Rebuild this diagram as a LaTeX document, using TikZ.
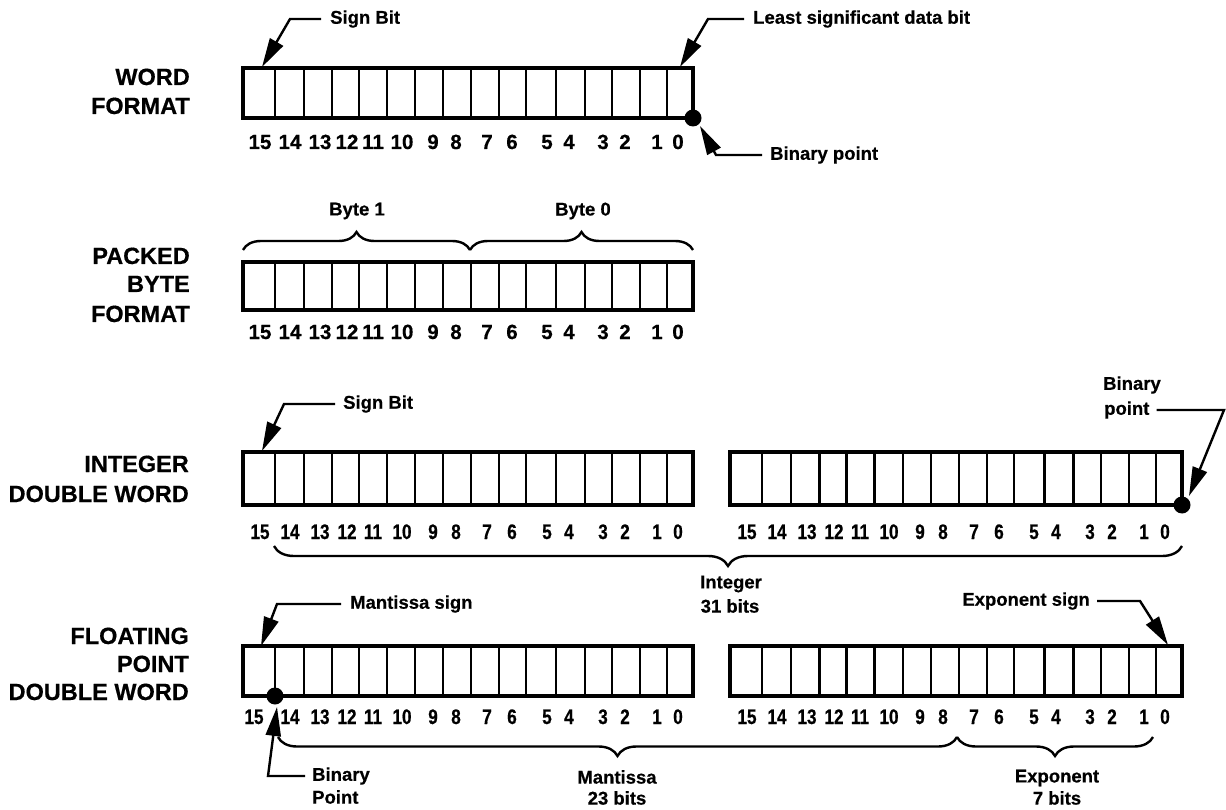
\documentclass[tikz,border=0pt]{standalone}
\usepackage{fontspec}
\setmainfont{Liberation Sans}[BoldFeatures={FakeBold=0.5}]
\newfontfamily\condfont{Liberation Sans}[FakeStretch=0.82, BoldFeatures={FakeBold=0.5}]
\usetikzlibrary{arrows.meta,decorations.pathreplacing}
\tikzset{
  regbox/.style={draw, line width=3.4pt, inner sep=0pt, outer sep=0pt, anchor=north west},
  divider/.style={line width=2.3pt},
  lead/.style={line width=2.4pt, -{Triangle[length=29pt,width=15pt]}},
  bpoint/.style={fill=black},
  rowlab/.style={anchor=base east, inner sep=0pt, font=\bfseries\fontsize{23.5}{28}\selectfont},
  lab/.style={inner sep=0pt, font=\bfseries\fontsize{18.5}{22}\selectfont},
  digwide/.style={anchor=base, inner sep=0pt, font=\bfseries\fontsize{20.5}{24}\selectfont},
  digcond/.style={anchor=base, inner sep=0pt, font=\condfont\bfseries\fontsize{21}{24}\selectfont},
  bracestyle/.style={decorate, line width=2.4pt},
}
\newcommand\register[8]{%
  \node[regbox, minimum width=#4pt, minimum height=#5pt] (#1) at (#2,#3) {};
  \foreach \b in {32,61,89,116,144,172,200,228,256,283,313,342,369,397,424}
    \draw[divider] ({#2+\b/450*#4},#3) -- ({#2+\b/450*#4},{#3+#5});
  \foreach \n/\o in {15/#8,14/47,13/77,12/104,11/130,10/159,9/190,8/213,7/244,6/269,5/304,4/326,3/360,2/382,1/414,0/435}
    \node[#6] (#1-\n) at ({#2+\o},#7) {\n};
}
\begin{document}
\begin{tikzpicture}[x=1pt,y=-1pt]
\fill[white] (0,0) rectangle (1226,810);
\useasboundingbox (0,0) rectangle (1226,810);

% ---------------- WORD FORMAT ----------------
\node[rowlab] (lw1) at (190,85) {WORD};
\node[rowlab] (lw2) at (190,114) {FORMAT};
\register{w}{243}{68}{450}{50}{digwide}{149}{17}
\node[lab, anchor=west] (wsign) at (330,19) {Sign Bit};
\coordinate (wsignk) at (290,19);
\coordinate (wsignt) at (262,67);
\draw[lead] ([xshift=-9pt]wsign.west) -- (wsignk) -- (wsignt);
\node[lab, anchor=west] (wlsb) at (753,19) {Least significant data bit};
\coordinate (wlsbk) at (708,19);
\coordinate (wlsbt) at (680,67);
\draw[lead] ([xshift=-9pt]wlsb.west) -- (wlsbk) -- (wlsbt);
\fill[bpoint] (w.south east) circle (8.5);
\node[lab, anchor=west] (wbp) at (770,155) {Binary point};
\coordinate (wbpk) at (716,155);
\coordinate (wbpt) at (700,126);
\draw[lead] ([xshift=-8pt]wbp.west) -- (wbpk) -- (wbpt);

% ---------------- PACKED BYTE FORMAT ----------------
\node[rowlab] (lp1) at (190,264) {PACKED};
\node[rowlab] (lp2) at (190,292) {BYTE};
\node[rowlab] (lp3) at (190,322) {FORMAT};
\register{p}{243}{262}{450}{48}{digwide}{339}{17}
\coordinate (b1l) at (243,250);
\coordinate (bsplit) at (470,250);
\coordinate (b0r) at (693,250);
\draw[bracestyle, decoration={brace, amplitude=18pt}] (b1l) -- (bsplit);
\draw[bracestyle, decoration={brace, amplitude=18pt}] (bsplit) -- (b0r);
\node[lab] (byte1) at (357,211) {Byte 1};
\node[lab] (byte0) at (583,211) {Byte 0};

% ---------------- INTEGER DOUBLE WORD ----------------
\node[rowlab] (li1) at (189,472) {INTEGER};
\node[rowlab] (li2) at (189,502) {DOUBLE WORD};
\register{il}{243}{452}{450}{53}{digcond}{539}{17}
\register{ir}{730}{452}{452}{53}{digcond}{539}{17}
\node[lab, anchor=west] (isign) at (343,404) {Sign Bit};
\coordinate (isignk) at (284,404);
\coordinate (isignt) at (262,451);
\draw[lead] ([xshift=-8pt]isign.west) -- (isignk) -- (isignt);
\fill[bpoint] (ir.south east) circle (8.5);
\node[lab, anchor=west] (ibp1) at (1103,385) {Binary};
\node[lab, anchor=west] (ibp2) at (1104,410) {point};
\coordinate (ibpk) at (1224,410);
\coordinate (ibpt) at (1189,496);
\draw[lead] ([xshift=7pt]ibp2.east) -- (ibpk) -- (ibpt);
\coordinate (intl) at (274,546);
\coordinate (intr) at (1182,546);
\draw[bracestyle, decoration={brace, mirror, amplitude=20pt}] (intl) -- (intr);
\node[lab] (int1) at (731,584) {Integer};
\node[lab] (int2) at (730,606) {31 bits};

% ---------------- FLOATING POINT DOUBLE WORD ----------------
\node[rowlab] (lf1) at (189,644) {FLOATING};
\node[rowlab] (lf2) at (189,672) {POINT};
\node[rowlab] (lf3) at (189,700) {DOUBLE WORD};
\register{fl}{243}{646}{450}{50}{digcond}{724}{11}
\register{fr}{730}{646}{452}{50}{digcond}{724}{17}
\node[lab, anchor=west] (msign) at (350,604) {Mantissa sign};
\coordinate (msignk) at (277,604);
\coordinate (msignt) at (261,646);
\draw[lead] ([xshift=-9pt]msign.west) -- (msignk) -- (msignt);
\coordinate (fdot) at (275,696);
\fill[bpoint] (fdot) circle (8.5);
\node[lab, anchor=west] (fbp1) at (312,776) {Binary};
\node[lab, anchor=west] (fbp2) at (312,797) {Point};
\coordinate (fbpk) at (268,776);
\coordinate (fbpt) at (277,707);
\draw[lead] ([xshift=-7pt]fbp1.west) -- (fbpk) -- (fbpt);
\coordinate (manl) at (278,737);
\coordinate (mansplit) at (957,737);
\coordinate (expr) at (1153,737);
\draw[bracestyle, decoration={brace, mirror, amplitude=19pt}] (manl) -- (mansplit);
\draw[bracestyle, decoration={brace, mirror, amplitude=19pt}] (mansplit) -- (expr);
\node[lab] (man1) at (617,777) {Mantissa};
\node[lab] (man2) at (617,798) {23 bits};
\node[lab] (exp1) at (1057,778) {Exponent};
\node[lab] (exp2) at (1057,798) {7 bits};
\node[lab, anchor=east] (esign) at (1090,601) {Exponent sign};
\coordinate (esignk) at (1140,601);
\coordinate (esignt) at (1168,645);
\draw[lead] ([xshift=7pt]esign.east) -- (esignk) -- (esignt);
\end{tikzpicture}
\end{document}
